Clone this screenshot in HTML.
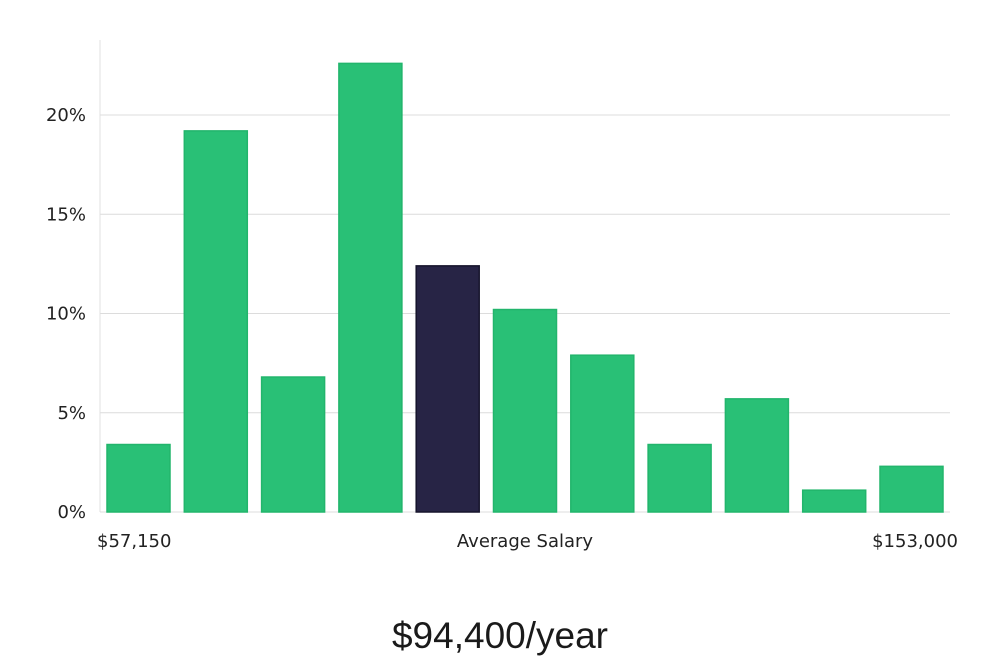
<!DOCTYPE html>
<html><head><meta charset="utf-8"><style>
body{margin:0;background:#fff;width:1000px;height:660px;overflow:hidden;font-family:"DejaVu Sans","Liberation Sans",sans-serif;}
</style></head><body>
<svg width="1000" height="660" id="chart"></svg>
<script>
const categories=["b1","b2","b3","b4","b5","b6","b7","b8","b9","b10","b11"];
const values=[3.4,19.2,6.8,22.6,12.4,10.2,7.9,3.4,5.7,1.1,2.3];
const highlight=[false,false,false,false,true,false,false,false,false,false,false];
const yTicks=[0,5,10,15,20];
const yTickLabels=["0%","5%","10%","15%","20%"];
const ns="http://www.w3.org/2000/svg";
const svg=document.getElementById('chart');
const x0=100,x1=950,y0=512,pxPer=19.85;
const y=v=>y0-v*pxPer;
const pitch=77.3,bw=63,bx0=107;
const xb=i=>bx0+i*pitch;
function mk(t,a,txt){const e=document.createElementNS(ns,t);for(const k in a)e.setAttribute(k,a[k]);if(txt!==undefined)e.textContent=txt;svg.appendChild(e);return e;}
yTicks.forEach((t,i)=>{
 if(t>0){const g=mk('line',{x1:x0,x2:x1,y1:y(t),y2:y(t),stroke:'#dcdcdc','stroke-width':1});
 
 }
 const l=mk('text',{x:86,y:y(t)+6,'text-anchor':'end','font-size':18,fill:'#222'},yTickLabels[i]);
 
 
});
const ax=mk('line',{x1:x0,x2:x0,y1:40,y2:y0,stroke:'#e0e0e0','stroke-width':1});


const bx=mk('line',{x1:x0,x2:x1,y1:y0,y2:y0,stroke:'#dcdcdc','stroke-width':1});


values.forEach((v,i)=>{
 const r=mk('rect',{x:xb(i),y:y(v),width:bw,height:v*pxPer,fill:highlight[i]?'#272445':'#29c076',stroke:highlight[i]?'#16142c':'#22b56c','stroke-width':1.5});
 
 
});
[[97,'start','$57,150','x-min-label'],[525,'middle','Average Salary','x-average-label'],[958,'end','$153,000','x-max-label']].forEach(d=>{
 const t=mk('text',{x:d[0],y:547,'text-anchor':d[1],'font-size':18,fill:'#222'},d[2]);
 
 
});
const ti=mk('text',{x:500,y:648,'text-anchor':'middle','font-size':37,fill:'#1a1a1a','font-family':'Liberation Sans, sans-serif'},'$94,400/year');


</script>
</body></html>
